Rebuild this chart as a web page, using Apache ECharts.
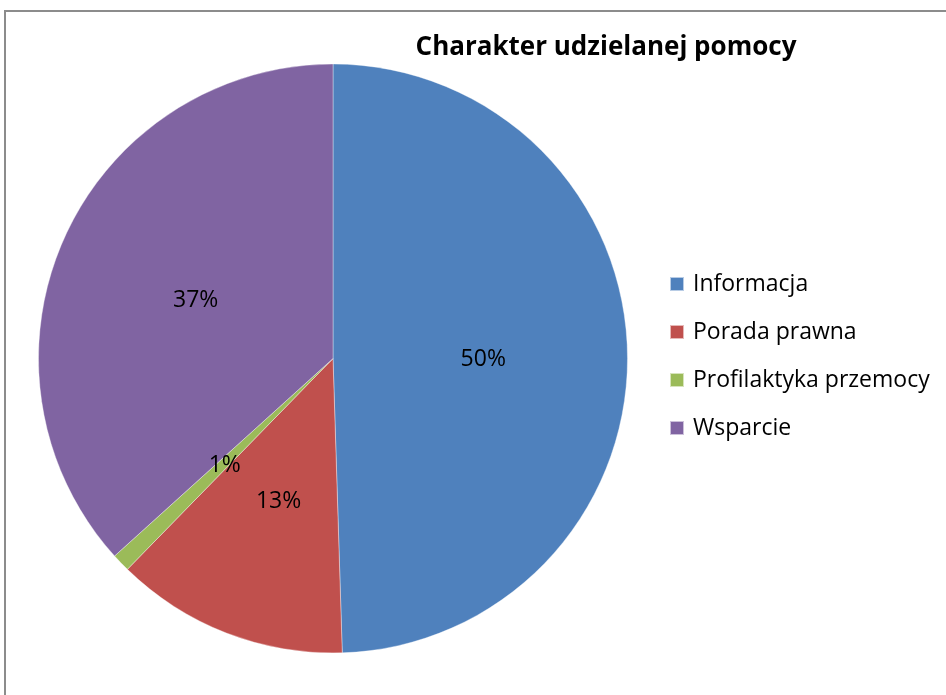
<!DOCTYPE html>
<html>
<head>
<meta charset="utf-8">
<script src="https://cdn.jsdelivr.net/npm/echarts@6/dist/echarts.min.js"></script>
<style>
  html, body { margin: 0; padding: 0; background: #fff; }
  #chart { width: 946px; height: 695px; }
</style>
</head>
<body>
<div id="chart"></div>
<script>
// dane
const categories = ['Informacja', 'Porada prawna', 'Profilaktyka przemocy', 'Wsparcie']
const values = [49.5, 12.8, 1.0, 36.7]
const colors = ['#4F81BD', '#C0504D', '#9BBB59', '#8064A2']

const font = '"Open Sans", sans-serif'
const chart = echarts.init(document.getElementById('chart'))

chart.setOption({
  backgroundColor: '#fff',
  animation: false,
  color: colors,
  title: {
    text: 'Charakter udzielanej pomocy',
    left: 606,
    top: 35,
    padding: 0,
    textAlign: 'center',
    textStyle: { fontFamily: font, fontSize: 26, fontWeight: 'bold', color: '#000' }
  },
  legend: {
    orient: 'vertical',
    left: 669,
    top: 272,
    padding: 0,
    icon: 'rect',
    itemWidth: 14,
    itemHeight: 14,
    itemGap: 24,
    textStyle: { fontFamily: font, fontSize: 23, lineHeight: 24, color: '#000', padding: [0, 0, 0, 4] },
    data: categories
  },
  // ramka wykresu
  graphic: [{
    type: 'rect',
    shape: { x: 5, y: 11, width: 1200, height: 1200 },
    style: { fill: 'none', stroke: '#8c8c8c', lineWidth: 2 },
    silent: true
  }],
  series: [{
    type: 'pie',
    center: [333, 358.5],
    radius: 294.5,
    startAngle: 90,
    clockwise: true,
    itemStyle: { borderColor: 'rgba(255,255,255,0.6)', borderWidth: 0.6 },
    label: {
      show: true,
      position: 'inside',
      formatter: p => Math.round(p.percent) + '%',
      fontFamily: font,
      fontSize: 23,
      color: '#000',
      offset: [0, 3]
    },
    labelLine: { show: false },
    emphasis: { disabled: true },
    data: categories.map((name, i) => ({ name, value: values[i] }))
  }]
})
</script>
</body>
</html>
